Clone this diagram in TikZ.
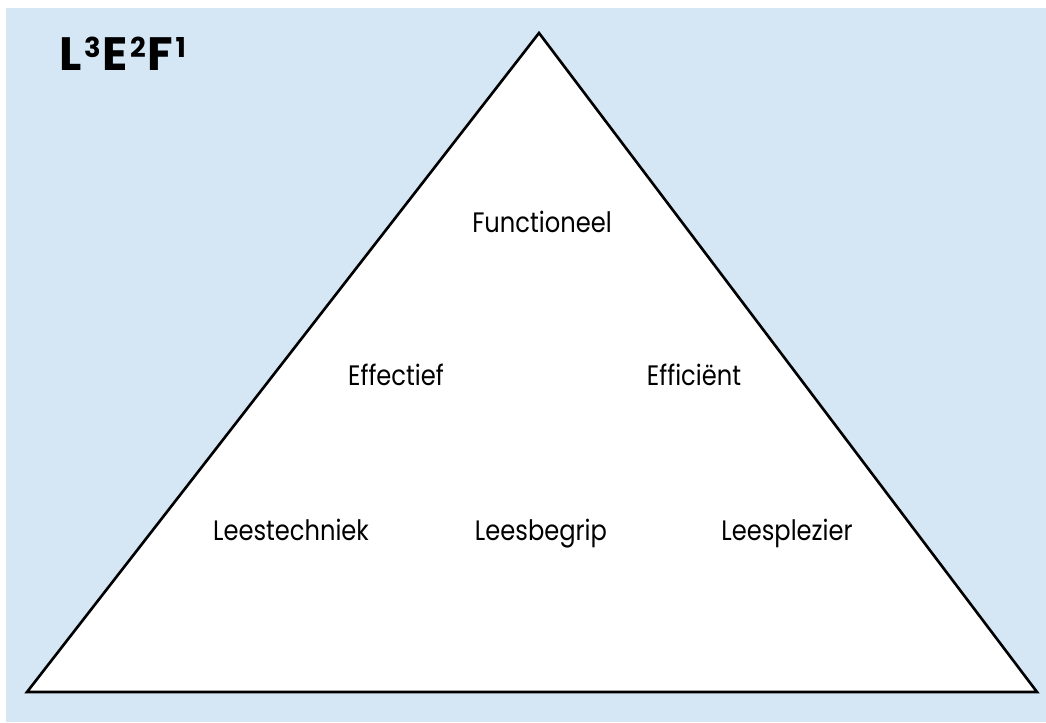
\documentclass[tikz,border=0pt]{standalone}
\usepackage{fontspec}
\setmainfont{Poppins}[FakeStretch=0.86]
\newfontfamily\titlefont{Poppins}
\usepackage{tikz}
\usetikzlibrary{positioning}
\usepackage{xcolor}
\definecolor{pyrblue}{RGB}{213,230,244}
\tikzstyle{level} = [anchor=base, inner sep=0pt, font=\fontsize{8}{10}\selectfont]
\newcommand{\pw}[1]{\hspace{0.6pt}\raisebox{3.7pt}{\fontsize{7.8}{8}\selectfont #1}\hspace{0.6pt}}

\begin{document}
\begin{tikzpicture}
% Canvas and background
\useasboundingbox (0,0) rectangle (10.46,-7.22);
\fill[pyrblue] (0.06,-0.08) rectangle (10.46,-7.22);

% Pyramid
\coordinate (top) at (5.39,-0.33);
\coordinate (left) at (0.27,-6.92);
\coordinate (right) at (10.37,-6.92);
\draw[line width=0.75pt, fill=white, line join=miter] (top) -- (left) -- (right) -- cycle;

% Title
\node[anchor=base west, inner sep=0pt, font=\titlefont\fontsize{13.3}{15}\selectfont\bfseries] (title) at (0.59,-0.71) {L\pw{3}E\pw{2}F\pw{1}};

% Levels
\node[level] (func) at (5.42,-2.32) {Functioneel};
\node[level] (eff) at (3.96,-3.85) {Effectief};
\node[level] (effi) at (6.94,-3.85) {Efficiënt};
\node[level] (tech) at (2.91,-5.40) {Leestechniek};
\node[level] (begrip) at (5.41,-5.40) {Leesbegrip};
\node[level] (plezier) at (7.87,-5.40) {Leesplezier};
\end{tikzpicture}
\end{document}
